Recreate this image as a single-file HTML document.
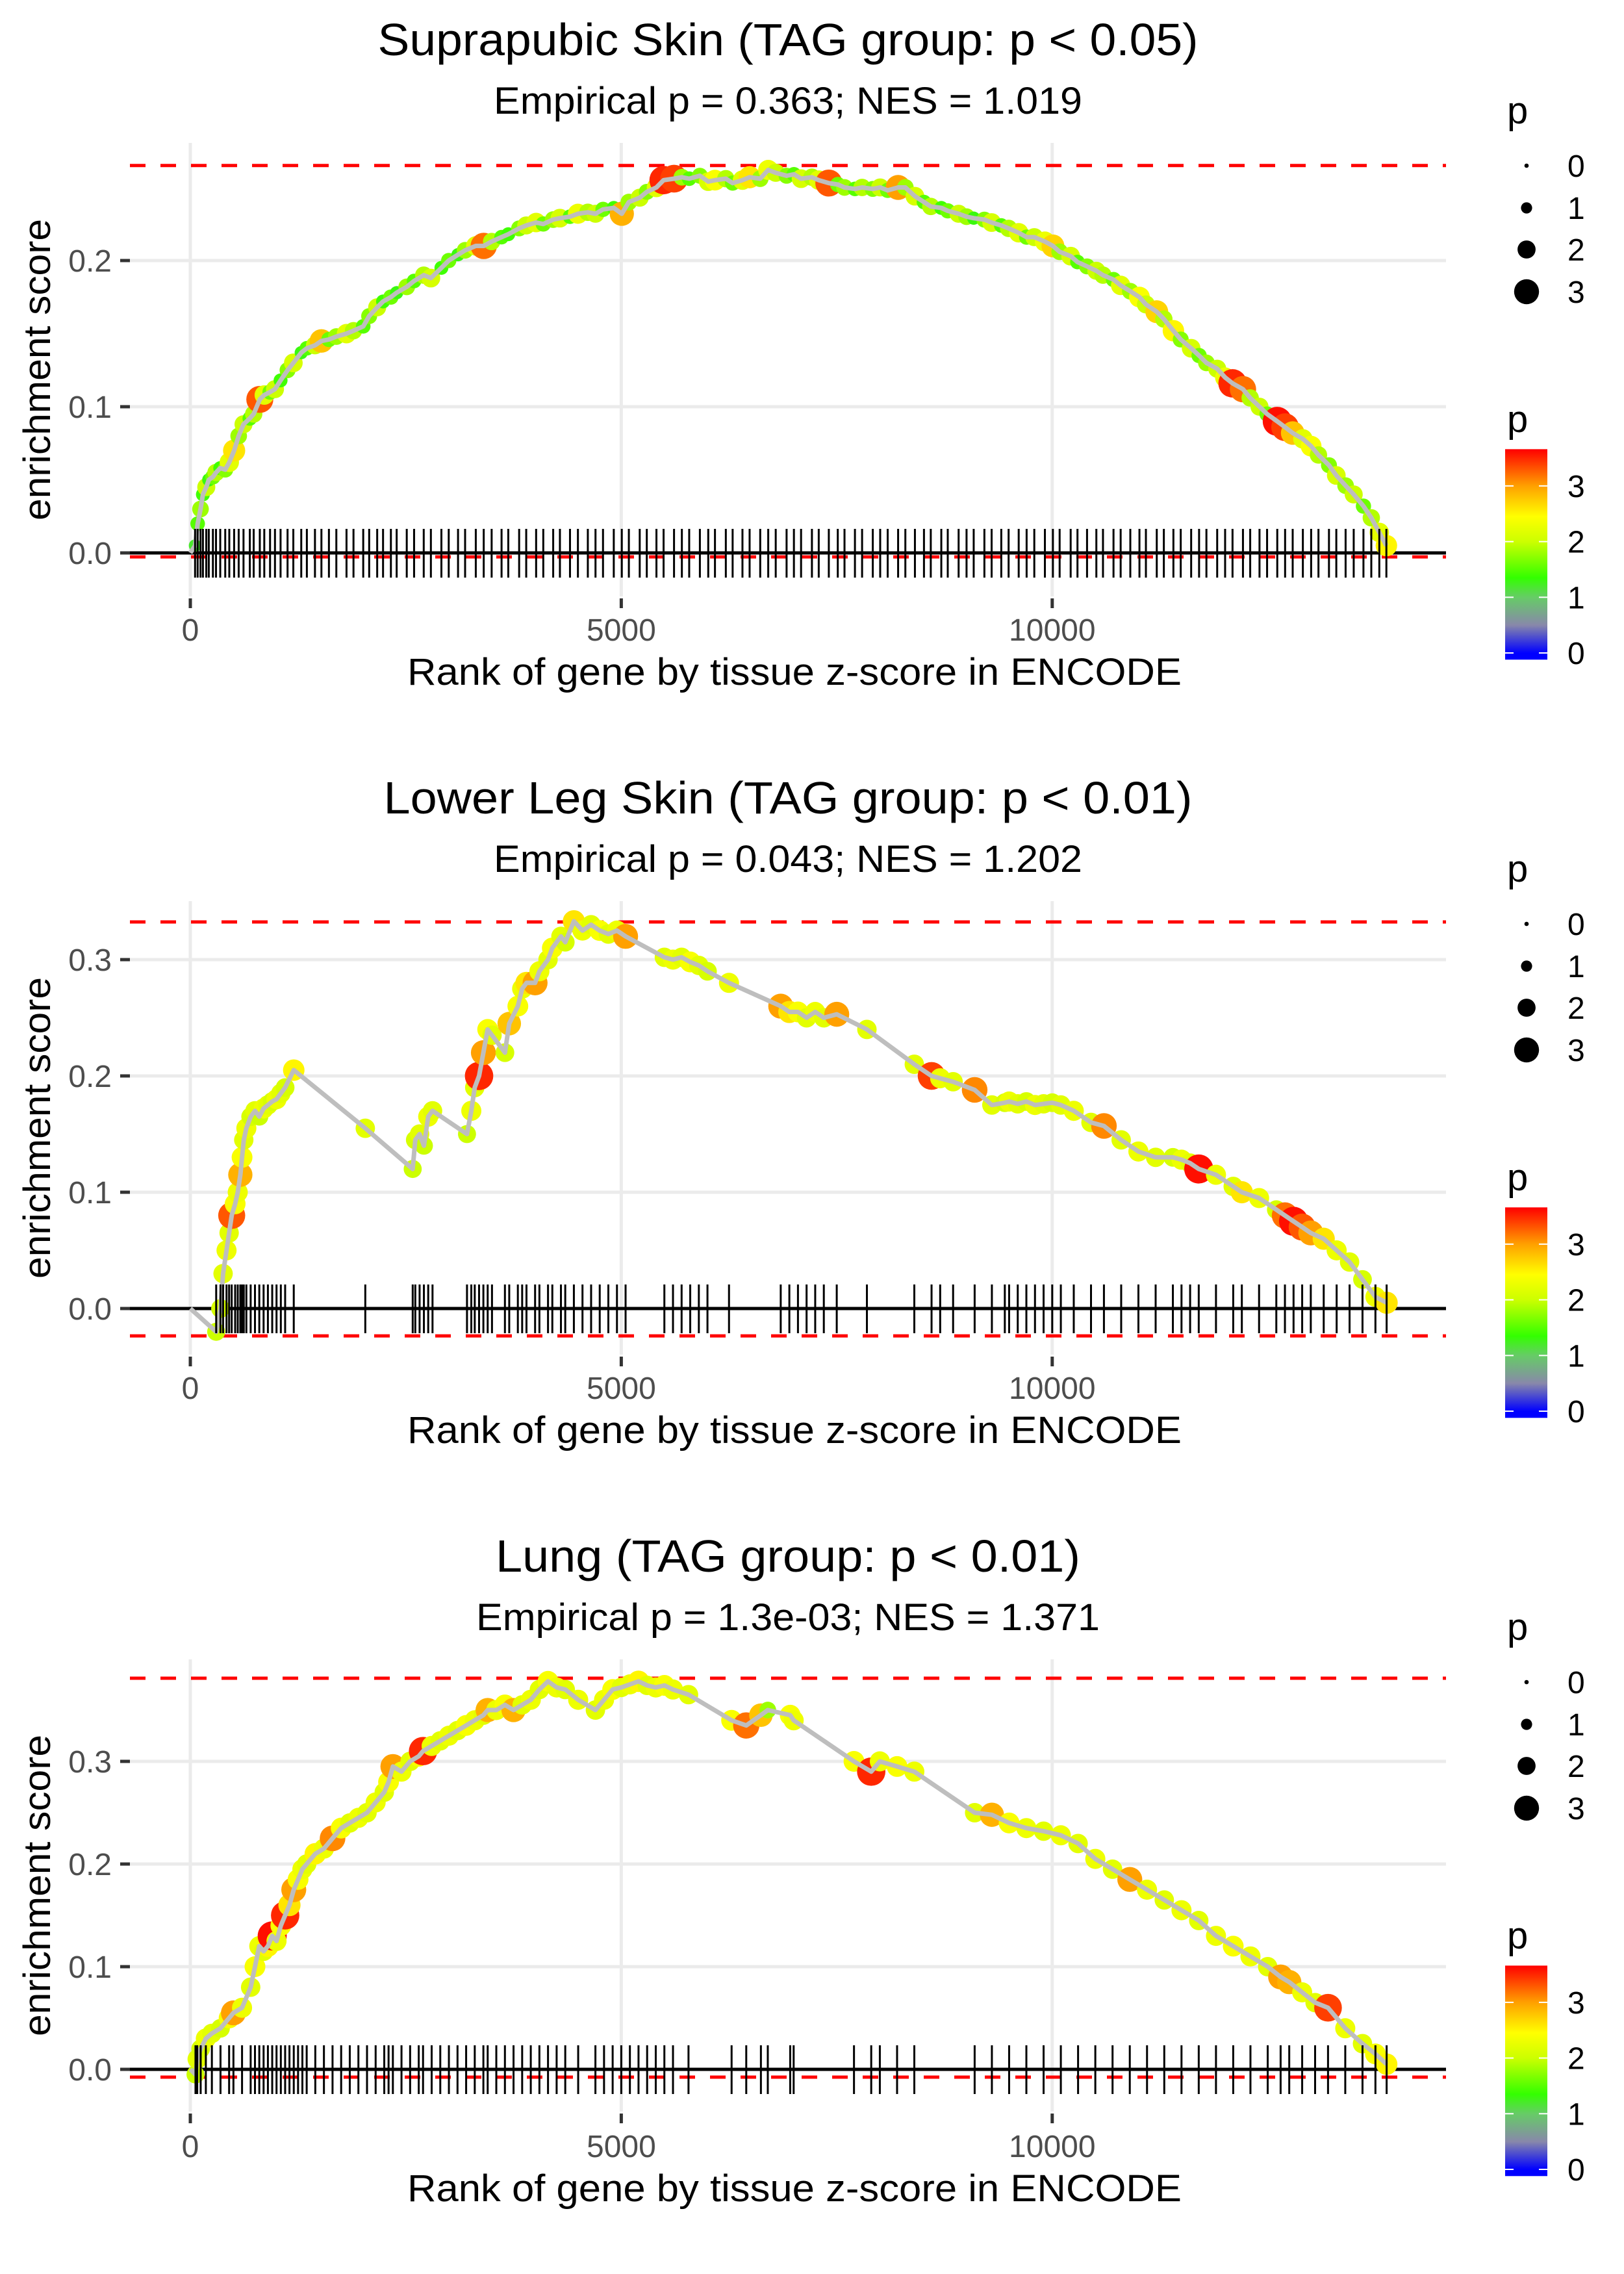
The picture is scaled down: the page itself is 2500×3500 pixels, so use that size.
<!DOCTYPE html>
<html><head><meta charset="utf-8"><title>Enrichment plots</title>
<style>html,body{margin:0;padding:0;background:#fff}svg{display:block}</style></head>
<body>
<svg id="fig" xmlns="http://www.w3.org/2000/svg" width="2500" height="3500" viewBox="0 0 2500 3500" font-family="'Liberation Sans', sans-serif">
<rect x="0" y="0" width="2500" height="3500" fill="#fff"/>
</svg>
<script>
// ===== Panel 1: Suprapubic Skin =====
const ranks1 = [55,85,118,146,185,214,262,298,347,405,
452,508,561,617,690,735,806,858,925,982,
1047,1128,1195,1287,1352,1446,1521,1608,1694,1812,
1893,2006,2075,2168,2236,2327,2394,2511,2596,2708,
2791,2913,2998,3106,3188,3312,3404,3496,3611,3689,
3815,3897,4012,4095,4210,4288,4405,4497,4612,4701,
4788,4913,5006,5088,5214,5296,5408,5491,5612,5703,
5788,5912,6009,6087,6213,6292,6406,6489,6612,6705,
6792,6918,7003,7086,7212,7291,7408,7512,7590,7711,
7794,7918,8004,8091,8212,8296,8407,8512,8591,8713,
8788,8914,9006,9089,9213,9297,9409,9494,9611,9703,
9792,9915,10008,10086,10214,10293,10404,10512,10589,10711,
10794,10906,11012,11087,11213,11295,11406,11491,11612,11704,
11789,11914,12006,12092,12213,12297,12405,12493,12611,12702,
12790,12908,13004,13089,13211,13296,13404,13498,13611,13702,
13795,13877];
const es1 = [0.005,0.02,0.03,0.04,0.045,0.05,0.052,0.055,0.058,0.057,
0.062,0.07,0.08,0.088,0.092,0.095,0.105,0.108,0.11,0.112,
0.118,0.125,0.13,0.137,0.14,0.142,0.145,0.146,0.148,0.15,
0.152,0.155,0.162,0.168,0.172,0.175,0.178,0.182,0.186,0.19,
0.188,0.195,0.2,0.204,0.207,0.21,0.21,0.213,0.216,0.218,
0.222,0.224,0.226,0.225,0.228,0.229,0.23,0.232,0.233,0.232,
0.235,0.236,0.232,0.24,0.243,0.247,0.25,0.255,0.256,0.257,
0.256,0.258,0.254,0.255,0.256,0.253,0.255,0.257,0.256,0.262,
0.26,0.258,0.259,0.256,0.257,0.255,0.253,0.252,0.25,0.249,
0.25,0.249,0.25,0.248,0.25,0.25,0.244,0.24,0.237,0.236,
0.234,0.232,0.23,0.229,0.228,0.226,0.224,0.222,0.219,0.216,
0.216,0.213,0.21,0.206,0.203,0.199,0.196,0.193,0.19,0.187,
0.183,0.179,0.175,0.17,0.165,0.16,0.152,0.146,0.14,0.135,
0.13,0.126,0.12,0.116,0.112,0.106,0.1,0.095,0.09,0.086,
0.082,0.078,0.073,0.067,0.06,0.053,0.046,0.04,0.032,0.024,
0.014,0.005];
const pv1 = [1.2,1.5,1.8,1.4,2.0,1.3,1.6,1.9,1.4,1.7,
2.2,2.6,1.8,2.0,1.5,1.9,3.3,2.2,1.6,2.0,
1.4,1.7,2.1,1.3,1.5,2.0,2.8,1.6,1.8,2.2,
1.9,1.5,1.7,2.0,1.4,1.6,1.3,1.8,1.5,1.9,
2.1,1.4,1.6,1.3,1.8,2.2,3.2,1.9,1.5,1.4,
1.7,2.0,2.2,1.6,1.8,2.1,1.5,2.3,1.9,2.0,
1.6,1.4,2.9,1.8,2.0,1.7,2.2,3.5,3.4,1.8,
1.5,1.7,2.1,2.4,1.9,1.6,2.2,2.6,1.8,2.3,
2.0,1.7,1.5,2.1,1.9,2.2,3.3,1.6,1.8,1.5,
1.9,1.7,2.0,1.6,3.0,1.8,2.1,1.5,1.9,1.4,
1.6,2.0,1.8,1.3,1.7,2.1,1.5,1.9,2.2,1.6,
2.0,2.3,2.7,1.8,2.1,1.5,1.7,2.0,1.9,1.6,
2.2,1.8,2.4,2.0,2.7,1.9,2.5,1.7,2.1,1.6,
1.8,2.0,2.3,3.5,3.2,1.9,2.0,1.6,3.6,3.4,
2.8,2.2,2.4,1.9,1.7,2.1,1.8,2.0,1.6,1.9,
2.2,2.5];
const esMax1 = 0.265, esMin1 = -0.0027;
const yTicks1 = [0, 0.1, 0.2];

// ===== Panel 2: Lower Leg Skin =====
const ranks2 = [300,350,380,420,450,480,520,550,580,600,
620,650,700,750,800,850,900,950,1000,1050,
1100,1200,2030,2580,2610,2660,2710,2760,2810,3210,
3260,3300,3350,3400,3450,3500,3650,3700,3800,3850,
3900,4000,4050,4150,4200,4300,4350,4450,4550,4650,
4750,4850,4950,5050,5500,5600,5700,5800,5900,6000,
6250,6850,6950,7050,7150,7250,7350,7500,7850,8400,
8600,8700,8850,9100,9300,9450,9500,9600,9700,9800,
9900,10000,10100,10250,10450,10600,10800,11000,11200,11400,
11500,11600,11700,11900,12100,12200,12400,12600,12700,12800,
12900,13000,13150,13300,13450,13600,13750,13880];
const es2 = [-0.02,0.0,0.03,0.05,0.065,0.08,0.09,0.1,0.115,0.13,
0.145,0.155,0.165,0.17,0.165,0.172,0.175,0.178,0.18,0.185,
0.19,0.205,0.155,0.12,0.145,0.15,0.14,0.165,0.17,0.15,
0.17,0.19,0.2,0.22,0.24,0.235,0.22,0.245,0.26,0.275,
0.28,0.28,0.29,0.3,0.31,0.32,0.315,0.333,0.325,0.33,
0.325,0.322,0.325,0.32,0.302,0.3,0.302,0.298,0.295,0.29,
0.28,0.26,0.255,0.255,0.25,0.255,0.25,0.253,0.24,0.21,
0.2,0.198,0.195,0.188,0.175,0.177,0.178,0.176,0.178,0.175,
0.176,0.177,0.175,0.17,0.16,0.157,0.145,0.135,0.13,0.13,
0.128,0.125,0.12,0.115,0.105,0.1,0.095,0.085,0.08,0.075,
0.07,0.065,0.06,0.05,0.04,0.025,0.01,0.005];
const pv2 = [2.0,2.1,2.2,2.3,2.2,3.3,2.4,2.3,2.9,2.4,
2.2,2.3,2.1,2.2,2.0,2.3,2.2,2.1,2.3,2.2,
2.1,2.5,2.2,2.0,2.1,2.2,2.0,2.3,2.2,2.0,
2.3,2.2,3.5,3.0,2.4,2.2,2.1,2.8,2.4,2.3,
2.6,3.0,2.3,2.2,2.4,2.2,2.1,2.6,2.3,2.2,
2.4,2.2,2.3,3.0,2.2,2.3,2.2,2.4,2.2,2.1,
2.3,3.0,2.6,2.4,2.2,2.3,2.2,3.0,2.2,2.2,
3.4,2.3,2.2,3.1,2.2,2.1,2.3,2.2,2.1,2.3,
2.2,2.1,2.2,2.3,2.2,3.1,2.2,2.3,2.2,2.1,
2.3,2.2,3.6,2.3,2.2,2.6,2.3,2.1,3.2,3.6,
3.3,3.0,2.6,2.3,2.2,2.1,2.3,2.6];
const esMax2 = 0.3324, esMin2 = -0.0235;
const yTicks2 = [0, 0.1, 0.2, 0.3];

// ===== Panel 3: Lung =====
const ranks3 = [60,80,120,180,250,350,450,500,600,700,
750,800,850,900,950,1000,1050,1100,1150,1200,
1250,1300,1350,1450,1550,1650,1750,1850,1950,2050,
2150,2250,2300,2350,2450,2550,2650,2700,2800,2900,
3000,3100,3200,3300,3400,3450,3550,3650,3750,3850,
3950,4050,4150,4250,4350,4500,4700,4800,4900,5000,
5100,5200,5300,5400,5500,5600,5780,6280,6450,6620,
6700,6960,7000,7700,7900,8000,8200,8400,9100,9300,
9500,9700,9900,10100,10300,10500,10700,10900,11100,11300,
11500,11700,11900,12100,12300,12500,12650,12750,12900,13050,
13200,13400,13600,13750,13880];
const es3 = [-0.005,0.01,0.02,0.03,0.035,0.04,0.05,0.055,0.06,0.08,
0.1,0.12,0.115,0.12,0.13,0.125,0.14,0.15,0.16,0.175,
0.185,0.195,0.2,0.21,0.215,0.225,0.235,0.24,0.245,0.25,
0.26,0.27,0.28,0.295,0.29,0.3,0.305,0.31,0.315,0.32,
0.325,0.33,0.335,0.34,0.345,0.35,0.35,0.355,0.35,0.355,
0.36,0.37,0.378,0.372,0.37,0.36,0.35,0.36,0.37,0.372,
0.375,0.378,0.374,0.372,0.374,0.37,0.365,0.34,0.335,0.345,
0.35,0.345,0.34,0.3,0.29,0.3,0.295,0.29,0.25,0.248,
0.24,0.235,0.232,0.228,0.22,0.205,0.195,0.185,0.175,0.165,
0.155,0.145,0.13,0.12,0.11,0.1,0.09,0.085,0.075,0.065,
0.06,0.04,0.025,0.015,0.005];
const pv3 = [2.0,2.2,2.1,2.3,2.2,2.1,2.4,3.0,2.3,2.2,
2.4,2.3,2.2,2.5,3.6,2.3,2.4,3.5,2.6,3.0,
2.4,2.3,2.2,2.5,2.3,3.1,2.4,2.2,2.3,2.2,
2.3,2.2,2.4,3.0,2.3,2.2,2.4,3.5,2.3,2.2,
2.3,2.2,2.4,2.3,2.2,2.9,2.3,2.4,2.9,2.2,
2.3,2.2,2.4,2.3,2.2,2.3,2.2,2.3,2.4,2.2,
2.3,2.5,2.2,2.3,2.4,2.3,2.2,2.4,3.2,2.8,
1.8,2.4,2.3,2.4,3.5,2.3,2.4,2.3,2.2,2.9,
2.4,2.3,2.2,2.3,2.2,2.3,2.2,3.0,2.3,2.2,
2.3,2.2,2.3,2.4,2.3,2.2,3.0,2.9,2.3,2.2,
3.4,2.3,2.2,2.4,2.5];
const esMax3 = 0.381, esMin3 = -0.0076;
const yTicks3 = [0, 0.1, 0.2, 0.3];

const xTicks = [0, 5000, 10000];
const legendSizes = [0, 1, 2, 3];
const colorTicks = [0, 1, 2, 3];
const titles = ["Suprapubic Skin (TAG group: p < 0.05)", "Lower Leg Skin (TAG group: p < 0.01)", "Lung (TAG group: p < 0.01)"];
const subtitles = ["Empirical p = 0.363; NES = 1.019", "Empirical p = 0.043; NES = 1.202", "Empirical p = 1.3e-03; NES = 1.371"];

// ===== rendering =====
const NS = "http://www.w3.org/2000/svg";
const svg = document.getElementById("fig");
function mk(tag, attrs, parent) {
  const e = document.createElementNS(NS, tag);
  for (const k in attrs) e.setAttribute(k, attrs[k]);
  (parent || svg).appendChild(e);
  return e;
}
const stops = [[0,[0,0,255]],[0.5,[136,136,170]],[1.0,[102,204,102]],[1.35,[51,255,0]],[2.0,[204,255,0]],[2.45,[255,255,0]],[3.0,[255,160,0]],[3.66,[255,0,0]]];
function pColor(v) {
  if (v <= stops[0][0]) return "rgb(" + stops[0][1].join(",") + ")";
  for (let i = 1; i < stops.length; i++) {
    if (v <= stops[i][0]) {
      const a = stops[i-1], b = stops[i], t = (v - a[0]) / (b[0] - a[0]);
      const c = a[1].map((x, j) => Math.round(x + (b[1][j] - x) * t));
      return "rgb(" + c.join(",") + ")";
    }
  }
  return "rgb(255,0,0)";
}
function pRadius(v) { return 3.3 + 5.3 * v; }

const defs = mk("defs", {});
const grad = mk("linearGradient", {id: "cbar", x1: "0", y1: "1", x2: "0", y2: "0"}, defs);
const cbMin = -0.12, cbMax = 3.66;
stops.forEach(s => {
  mk("stop", {offset: ((s[0] - cbMin) / (cbMax - cbMin)).toFixed(4), "stop-color": "rgb(" + s[1].join(",") + ")"}, grad);
});
mk("stop", {offset: "0", "stop-color": "rgb(0,0,255)"}, grad).remove();

const panels = [
  {ranks: ranks1, es: es1, pv: pv1, max: esMax1, min: esMin1, yt: yTicks1, top: 220, bot: 918, zero: 851, unit: 2250},
  {ranks: ranks2, es: es2, pv: pv2, max: esMax2, min: esMin2, yt: yTicks2, top: 1387, bot: 2085, zero: 2014, unit: 1790},
  {ranks: ranks3, es: es3, pv: pv3, max: esMax3, min: esMin3, yt: yTicks3, top: 2554, bot: 3250, zero: 3185, unit: 1580}
];
const X0 = 293, SX = 0.13268, PL = 200, PR = 2226;
function xs(r) { return X0 + r * SX; }

panels.forEach((P, k) => {
  const off = k * 1167;
  const ys = v => P.zero - v * P.unit;
  const g = mk("g", {});
  
  

  // titles
  const t = mk("text", {x: 1213, y: 85 + off, "text-anchor": "middle", "font-size": 70, fill: "#000", textLength: [1263, 1245, 900][k], lengthAdjust: "spacingAndGlyphs"}, g);
  t.textContent = titles[k];
  
  
  const st = mk("text", {x: 1213, y: 175 + off, "text-anchor": "middle", "font-size": 58, fill: "#000", textLength: [906, 906, 960][k], lengthAdjust: "spacingAndGlyphs"}, g);
  st.textContent = subtitles[k];
  
  

  // grid
  const grid = mk("g", {stroke: "#ebebeb", "stroke-width": 5}, g);
  
  
  xTicks.forEach(v => mk("line", {x1: xs(v), x2: xs(v), y1: P.top, y2: P.bot}, grid));
  P.yt.forEach(v => mk("line", {x1: PL, x2: PR, y1: ys(v), y2: ys(v)}, grid));

  // axes ticks & labels
  xTicks.forEach(v => {
    mk("line", {x1: xs(v), x2: xs(v), y1: P.bot + 3, y2: P.bot + 18, stroke: "#333", "stroke-width": 5}, g);
    const l = mk("text", {x: xs(v), y: 986 + off, "text-anchor": "middle", "font-size": 48, fill: "#4d4d4d"}, g);
    l.textContent = String(v);
    
    
  });
  P.yt.forEach(v => {
    mk("line", {x1: 185, x2: 200, y1: ys(v), y2: ys(v), stroke: "#333", "stroke-width": 5}, g);
    const l = mk("text", {x: 172, y: ys(v) + 17, "text-anchor": "end", "font-size": 48, fill: "#4d4d4d"}, g);
    l.textContent = v.toFixed(1);
    
    
  });
  const xt = mk("text", {x: 1223, y: 1054 + off, "text-anchor": "middle", "font-size": 58, fill: "#000", textLength: 1192, lengthAdjust: "spacingAndGlyphs"}, g);
  xt.textContent = "Rank of gene by tissue z-score in ENCODE";
  
  
  const cy = (P.top + P.bot) / 2;
  const yt = mk("text", {x: 0, y: 0, transform: "translate(77," + cy + ") rotate(-90)", "text-anchor": "middle", "font-size": 58, fill: "#000", textLength: 464, lengthAdjust: "spacingAndGlyphs"}, g);
  yt.textContent = "enrichment score";
  
  

  // dashed max/min lines
  [P.max, P.min].forEach(v => {
    const d = mk("line", {x1: PL, x2: PR, y1: ys(v), y2: ys(v), stroke: "#ff0000", "stroke-width": 5, "stroke-dasharray": "24 23"}, g);
    
    
  });
  const h = mk("line", {x1: PL, x2: PR, y1: ys(0), y2: ys(0), stroke: "#000", "stroke-width": 5}, g);
  
  

  // points
  const pts = mk("g", {}, g);
  
  
  P.ranks.forEach((r, i) => {
    const c = mk("circle", {cx: xs(r), cy: ys(P.es[i]), r: pRadius(P.pv[i]), fill: pColor(P.pv[i])}, pts);
    
    
  });
  // running line
  let d = "M" + xs(0) + "," + ys(0);
  P.ranks.forEach((r, i) => { d += " L" + xs(r).toFixed(1) + "," + ys(P.es[i]).toFixed(1); });
  const ln = mk("path", {d: d, fill: "none", stroke: "#bebebe", "stroke-width": 7, "stroke-linejoin": "round"}, g);
  
  

  // rug
  const rug = mk("g", {stroke: "#000", "stroke-width": 3}, g);
  
  
  P.ranks.forEach(r => mk("line", {x1: xs(r), x2: xs(r), y1: ys(0) - 37, y2: ys(0) + 38}, rug));

  // legends
  const lg = mk("g", {}, g);
  
  
  const lt = mk("text", {x: 2320, y: 190 + off, "font-size": 58, fill: "#000"}, lg);
  lt.textContent = "p";
  const sizeY = [255, 320, 384, 449];
  legendSizes.forEach((v, i) => {
    mk("circle", {cx: 2350, cy: sizeY[i] + off, r: pRadius(v), fill: "#000"}, lg);
    const tl = mk("text", {x: 2413, y: sizeY[i] + off + 17, "font-size": 48, fill: "#000"}, lg);
    tl.textContent = String(v);
  });
  const cg = mk("g", {}, g);
  
  
  const ct = mk("text", {x: 2320, y: 665 + off, "font-size": 58, fill: "#000"}, cg);
  ct.textContent = "p";
  const cbY = v => 1005 + off - 85.7 * v;
  mk("rect", {x: 2317, y: cbY(cbMax), width: 65, height: cbY(cbMin) - cbY(cbMax), fill: "url(#cbar)"}, cg);
  colorTicks.forEach(v => {
    mk("line", {x1: 2317, x2: 2330, y1: cbY(v), y2: cbY(v), stroke: "#fff", "stroke-width": 2}, cg);
    mk("line", {x1: 2369, x2: 2382, y1: cbY(v), y2: cbY(v), stroke: "#fff", "stroke-width": 2}, cg);
    const tl = mk("text", {x: 2413, y: cbY(v) + 17, "font-size": 48, fill: "#000"}, cg);
    tl.textContent = String(v);
  });
});
</script>
</body></html>
